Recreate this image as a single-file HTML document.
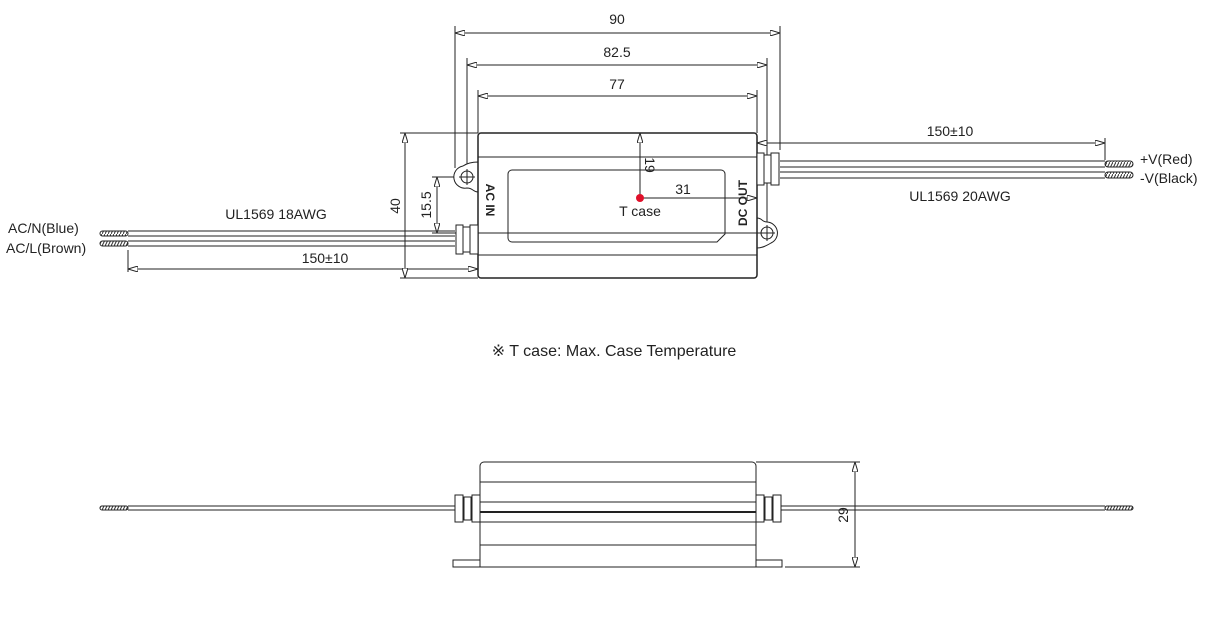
<!DOCTYPE html>
<html><head><meta charset="utf-8"><style>body{margin:0;background:#fff}svg{display:block}</style></head><body>
<svg width="1214" height="628" viewBox="0 0 1214 628" xmlns="http://www.w3.org/2000/svg" font-family="Liberation Sans, sans-serif" fill="none" stroke="#222" stroke-width="1">
<defs>
<pattern id="h" width="3" height="6" patternUnits="userSpaceOnUse"><path d="M0 6 L3 0" stroke="#333" stroke-width="1"/></pattern>
<marker id="a" viewBox="0 0 10 6" refX="10" refY="3" markerWidth="10" markerHeight="6" orient="auto-start-reverse" markerUnits="userSpaceOnUse"><path d="M0 0 L10 3 L0 6 Z" fill="#fff" stroke="#222"/></marker>
</defs>
<!-- top view dims -->
<line x1="455" y1="26" x2="455" y2="168"/><line x1="780" y1="26" x2="780" y2="150"/>
<line x1="455" y1="33" x2="780" y2="33" marker-start="url(#a)" marker-end="url(#a)"/>
<line x1="467" y1="58" x2="467" y2="165"/><line x1="767" y1="58" x2="767" y2="222"/>
<line x1="467" y1="65" x2="767" y2="65" marker-start="url(#a)" marker-end="url(#a)"/>
<line x1="478" y1="90" x2="478" y2="133"/><line x1="757" y1="90" x2="757" y2="133"/>
<line x1="478" y1="96" x2="757" y2="96" marker-start="url(#a)" marker-end="url(#a)"/>
<line x1="757" y1="143" x2="1105" y2="143" marker-start="url(#a)" marker-end="url(#a)"/>
<line x1="1105" y1="138" x2="1105" y2="160"/>
<line x1="128" y1="250" x2="128" y2="272"/>
<line x1="128" y1="269" x2="478" y2="269" marker-start="url(#a)" marker-end="url(#a)"/>
<line x1="400" y1="133" x2="478" y2="133"/><line x1="400" y1="278" x2="478" y2="278"/>
<line x1="405" y1="133" x2="405" y2="278" marker-start="url(#a)" marker-end="url(#a)"/>
<line x1="432" y1="177" x2="467" y2="177"/><line x1="432" y1="233" x2="767" y2="233"/>
<line x1="437" y1="177" x2="437" y2="233" marker-start="url(#a)" marker-end="url(#a)"/>
<!-- tabs -->
<path d="M478 162 C470 162 466 164 463 166 A11 11 0 0 0 467 188 C473 188 473 192 478 192 Z" fill="#fff"/>
<circle cx="467" cy="177" r="6"/><line x1="459" y1="177" x2="475" y2="177"/><line x1="467" y1="169" x2="467" y2="185"/>
<path d="M757 218 C762 218 762 222 767 222 A11 11 0 0 1 771 243 C766 246 762 248 757 248 Z" fill="#fff"/>
<circle cx="767" cy="233" r="6"/><line x1="759" y1="233" x2="775" y2="233"/><line x1="767" y1="225" x2="767" y2="241"/>
<!-- top body -->
<rect x="478" y="133" width="279" height="145" rx="3" fill="#fff" stroke-width="1.5"/>
<line x1="478" y1="157" x2="757" y2="157"/><line x1="478" y1="255" x2="757" y2="255"/>
<path d="M512 170 H721 a4 4 0 0 1 4 4 V234 l-8 8 H512 a4 4 0 0 1 -4 -4 V174 a4 4 0 0 1 4 -4 Z"/>
<line x1="467" y1="233" x2="767" y2="233"/>
<line x1="640" y1="198" x2="640" y2="133" marker-end="url(#a)"/>
<line x1="640" y1="198" x2="757" y2="198" marker-end="url(#a)"/>
<circle cx="640" cy="198" r="4" fill="#e0102a" stroke="none"/>
<!-- wires left -->
<g><line x1="128" y1="231" x2="455" y2="231"/><line x1="128" y1="236" x2="455" y2="236"/><line x1="128" y1="241" x2="455" y2="241"/><line x1="128" y1="246" x2="455" y2="246"/></g>
<rect x="100" y="231" width="28" height="5" rx="2.5" fill="url(#h)"/><rect x="100" y="241" width="28" height="5" rx="2.5" fill="url(#h)"/>
<g fill="#fff"><rect x="456" y="225" width="7" height="29"/><rect x="463" y="227" width="7" height="25"/><rect x="470" y="225" width="8" height="29"/></g>
<!-- wires right -->
<g><line x1="780" y1="161" x2="1105" y2="161"/><line x1="780" y1="167" x2="1105" y2="167"/><line x1="780" y1="172" x2="1105" y2="172"/><line x1="780" y1="178" x2="1105" y2="178"/></g>
<rect x="1105" y="161" width="28" height="6" rx="3" fill="url(#h)"/><rect x="1105" y="172" width="28" height="6" rx="3" fill="url(#h)"/>
<g fill="#fff"><rect x="757" y="153" width="7" height="32"/><rect x="764" y="155" width="7" height="28"/><rect x="771" y="153" width="8" height="32"/></g>
<!-- texts top -->
<g fill="#222" stroke="none" font-size="14">
<text x="617" y="24" text-anchor="middle">90</text>
<text x="617" y="57" text-anchor="middle">82.5</text>
<text x="617" y="89" text-anchor="middle">77</text>
<text x="950" y="136" text-anchor="middle">150±10</text>
<text x="325" y="263" text-anchor="middle">150±10</text>
<text x="276" y="219" text-anchor="middle">UL1569  18AWG</text>
<text x="960" y="201" text-anchor="middle">UL1569  20AWG</text>
<text x="8" y="233">AC/N(Blue)</text>
<text x="6" y="253">AC/L(Brown)</text>
<text x="1140" y="164">+V(Red)</text>
<text x="1140" y="183">-V(Black)</text>
<text x="683" y="194" text-anchor="middle">31</text>
<text x="640" y="216" text-anchor="middle">T case</text>
<text transform="translate(400,206) rotate(-90)" text-anchor="middle">40</text>
<text transform="translate(431,205) rotate(-90)" text-anchor="middle">15.5</text>
<text transform="translate(645,165) rotate(90)" text-anchor="middle">19</text>
<text transform="translate(486,200) rotate(90)" text-anchor="middle" font-weight="bold" font-size="12">AC  IN</text>
<text transform="translate(747,203) rotate(-90)" text-anchor="middle" font-weight="bold" font-size="12">DC  OUT</text>
<text x="614" y="356" text-anchor="middle" font-size="16">※ T case: Max. Case Temperature</text>
<text transform="translate(848,515) rotate(-90)" text-anchor="middle">29</text>
</g>
<!-- bottom view -->
<line x1="128" y1="506" x2="1105" y2="506"/><line x1="128" y1="510" x2="1105" y2="510"/>
<rect x="100" y="506" width="28" height="4" rx="2" fill="url(#h)"/><rect x="1105" y="506" width="28" height="4" rx="2" fill="url(#h)"/>
<rect x="453" y="560" width="27" height="7" fill="#fff"/><rect x="755" y="560" width="27" height="7" fill="#fff"/>
<path d="M484 462 H752 a4 4 0 0 1 4 4 V567 H480 V466 a4 4 0 0 1 4 -4 Z" fill="#fff"/>
<line x1="480" y1="482" x2="756" y2="482"/><line x1="480" y1="502" x2="756" y2="502"/>
<line x1="480" y1="512" x2="756" y2="512" stroke-width="2"/><line x1="480" y1="522" x2="756" y2="522"/><line x1="480" y1="545" x2="756" y2="545"/>
<g fill="#fff"><rect x="455" y="495" width="8" height="27"/><rect x="464" y="497" width="7" height="23"/><rect x="472" y="495" width="8" height="27"/>
<rect x="756" y="495" width="8" height="27"/><rect x="765" y="497" width="7" height="23"/><rect x="773" y="495" width="8" height="27"/></g>
<line x1="756" y1="462" x2="860" y2="462"/><line x1="785" y1="567" x2="860" y2="567"/>
<line x1="855" y1="462" x2="855" y2="567" marker-start="url(#a)" marker-end="url(#a)"/>
</svg>
</body></html>
